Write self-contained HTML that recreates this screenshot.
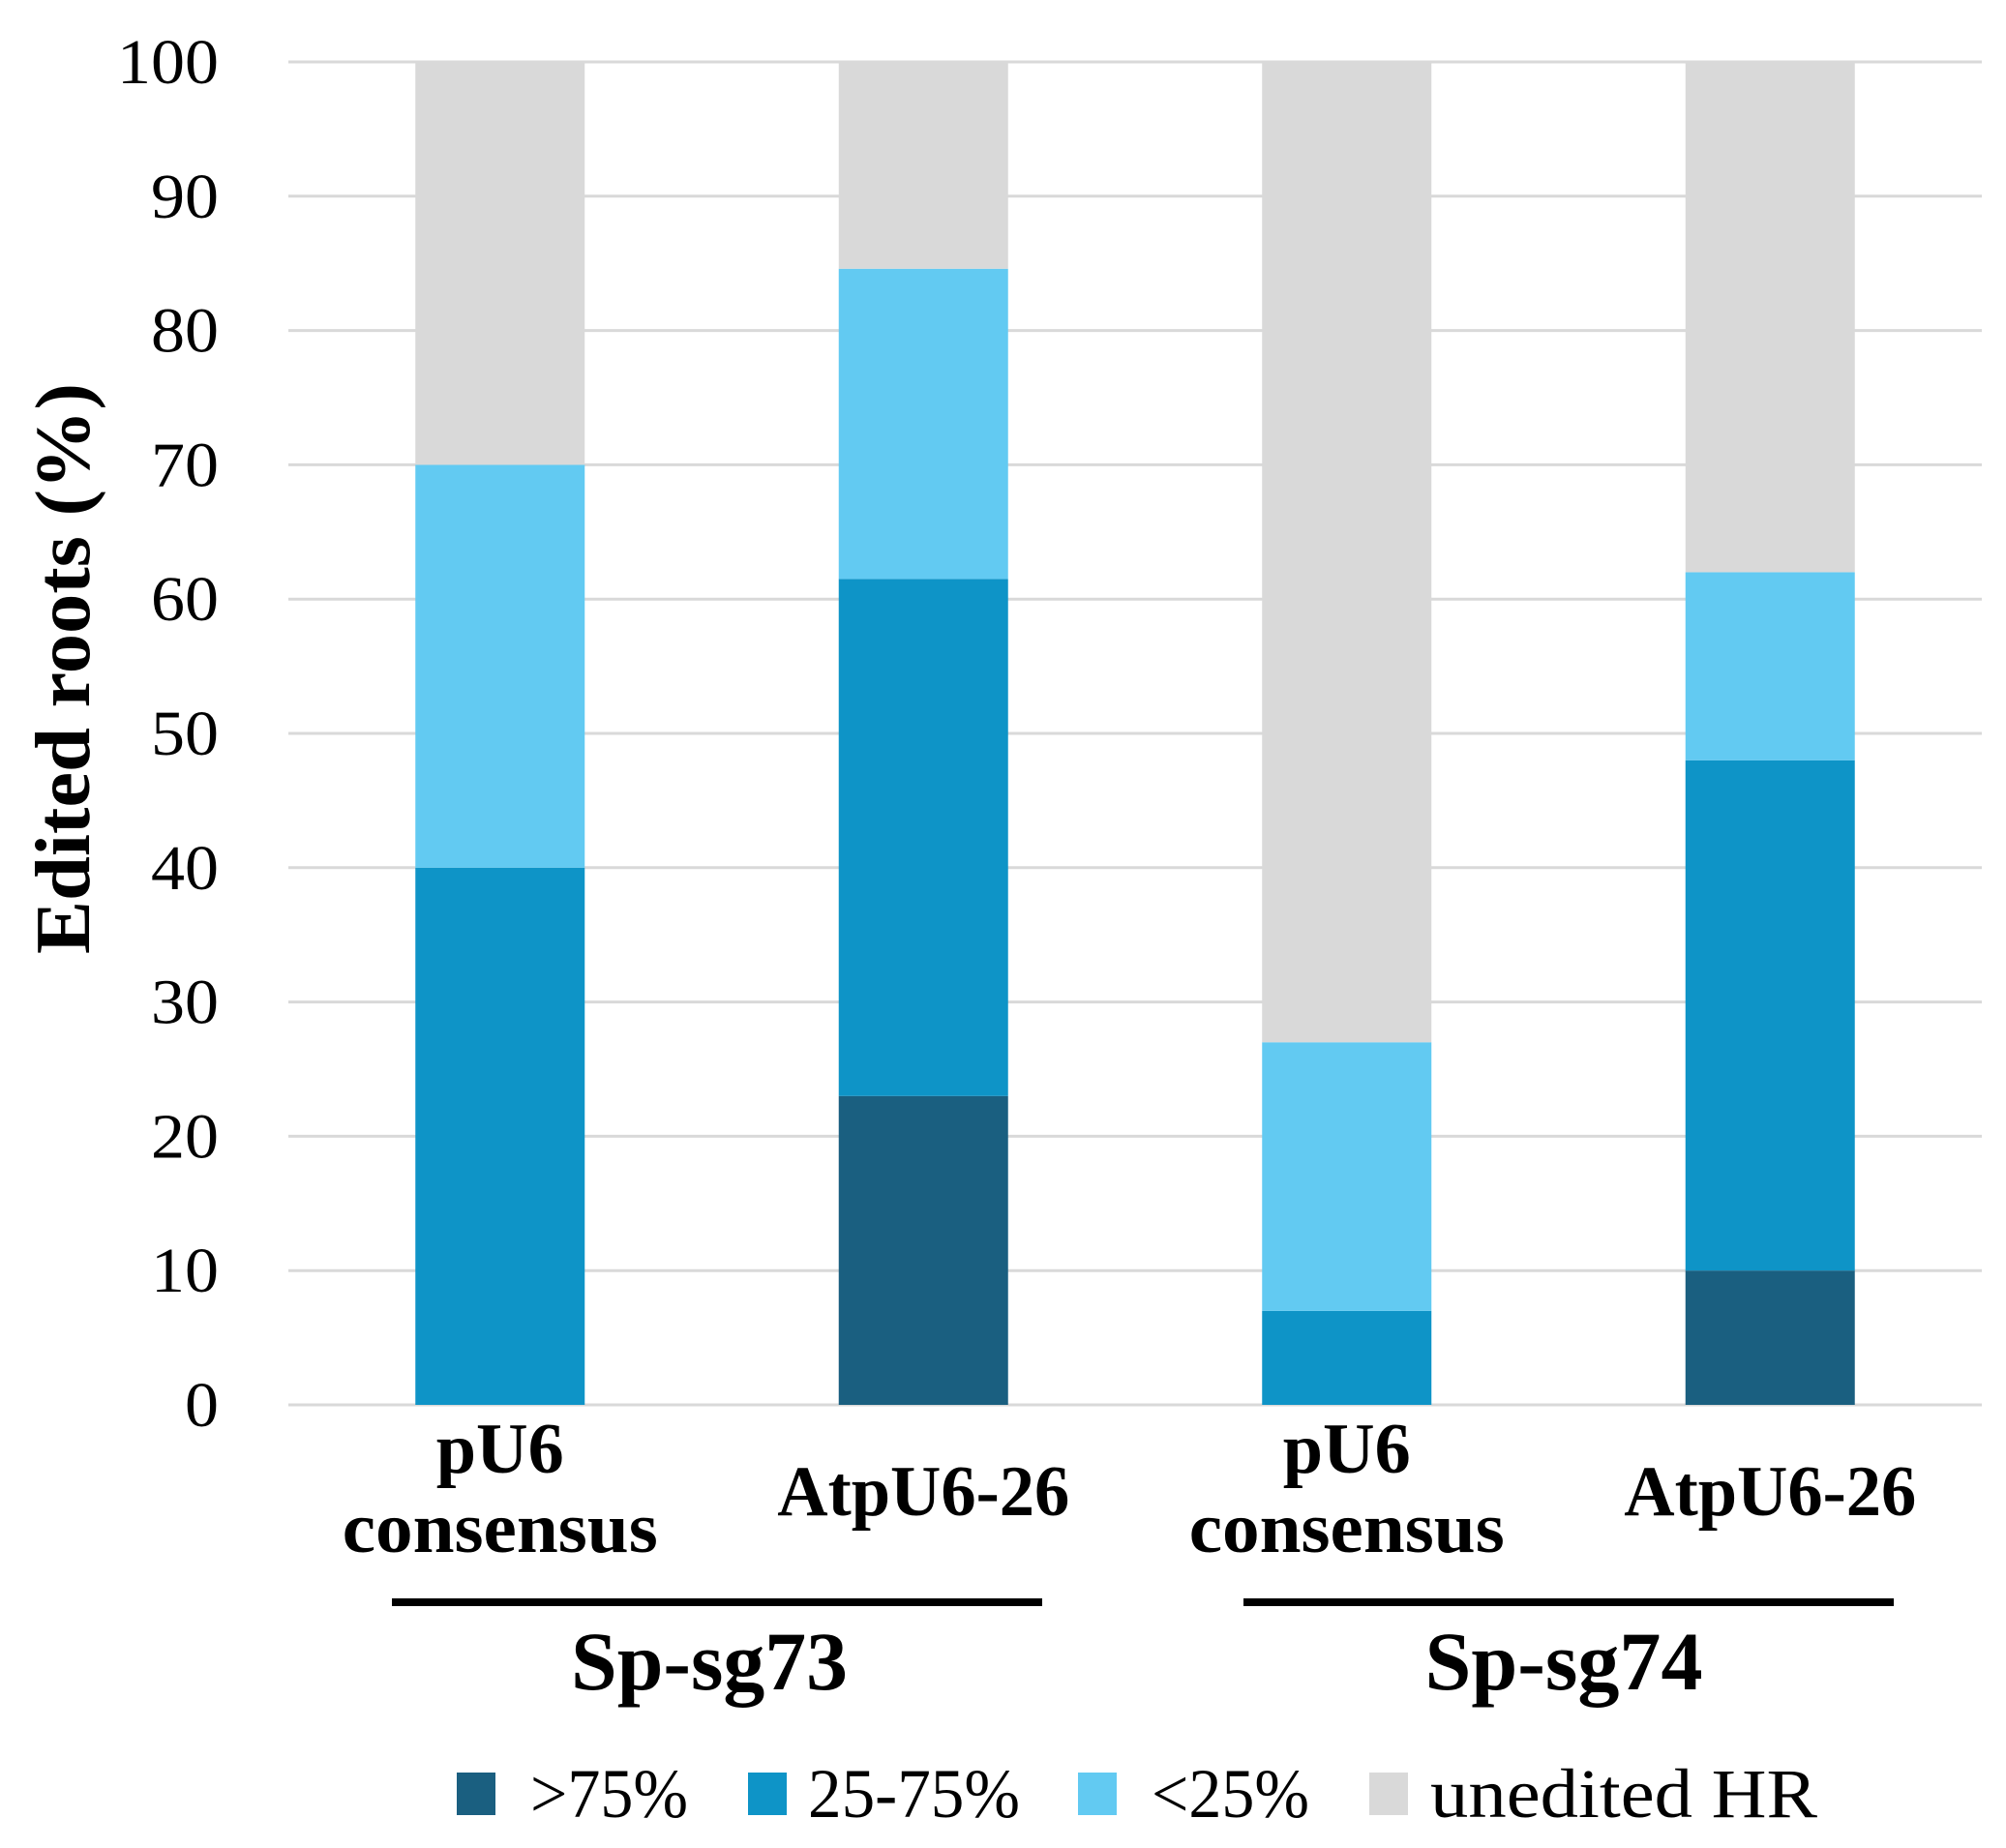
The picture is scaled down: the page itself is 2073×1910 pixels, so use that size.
<!DOCTYPE html>
<html><head><meta charset="utf-8"><style>
html,body{margin:0;padding:0;background:#fff;}
svg{display:block;}
text{font-family:"Liberation Serif",serif;fill:#000;}
</style></head><body>
<svg id="chart" width="2073" height="1910" viewBox="0 0 2073 1910" xmlns="http://www.w3.org/2000/svg">
<g id="grid"></g>
<g id="yticks"></g>
<g id="bars"></g>
<text transform="translate(92,691) rotate(-90)" text-anchor="middle" font-size="80" font-weight="bold" textLength="590" lengthAdjust="spacingAndGlyphs">Edited roots (%)</text>
<g id="xlabels" font-weight="bold" font-size="74" text-anchor="middle"></g>
<rect x="405" y="1652" width="672" height="8" fill="#000"/>
<rect x="1285" y="1652" width="672" height="8" fill="#000"/>
<text x="733" y="1746" font-size="86" font-weight="bold" text-anchor="middle" textLength="286" lengthAdjust="spacingAndGlyphs">Sp-sg73</text>
<text x="1616" y="1746" font-size="86" font-weight="bold" text-anchor="middle" textLength="287" lengthAdjust="spacingAndGlyphs">Sp-sg74</text>
<g id="legend" font-size="72"></g>
</svg>
<script>
const categories = [["pU6","consensus"],["AtpU6-26"],["pU6","consensus"],["AtpU6-26"]];
const seriesNames = [">75%","25-75%","<25%","unedited HR"];
const s75 = [0, 23, 0, 10];
const s2575 = [40, 38.5, 7, 38];
const s25 = [30, 23.1, 20, 14];
const sUnedited = [30, 15.4, 73, 38];
const yTicks = [0,10,20,30,40,50,60,70,80,90,100];

const colors = ["#1a5f80","#0e94c7","#62caf2","#d9d9d9"];
const NS = "http://www.w3.org/2000/svg";
const x0 = 298, x1 = 2048, yBottom = 1452, yTop = 64;
const band = (x1 - x0) / categories.length;
const barW = 175;
function y(v){ return yBottom - (v/100)*(yBottom - yTop); }
function xc(i){ return x0 + band*(i+0.5); }
function mk(tag, attrs, parent){ const e=document.createElementNS(NS,tag); for(const k in attrs) e.setAttribute(k,attrs[k]); parent.appendChild(e); return e; }
const labelW = {"pU6":132,"consensus":326,"AtpU6-26":302};

const grid = document.getElementById('grid');
const yt = document.getElementById('yticks');
yTicks.forEach(t=>{
  const l = mk('line',{x1:x0,x2:2048,y1:y(t),y2:y(t),stroke:'#d9d9d9','stroke-width':3},grid);
  
  
  const tx = mk('text',{x:226,y:y(t)+22,'text-anchor':'end','font-size':66,textLength:(String(t).length*35),lengthAdjust:'spacingAndGlyphs'},yt);
  tx.textContent = t;
  
  
});

const series = [s75, s2575, s25, sUnedited];
const bars = document.getElementById('bars');
categories.forEach((c,i)=>{
  let acc = 0;
  series.forEach((s,k)=>{
    const v = s[i];
    if(v>0){
      const r = mk('rect',{x:xc(i)-barW/2,y:y(acc+v),width:barW,height:y(acc)-y(acc+v),fill:colors[k]},bars);
      
      
    }
    acc += v;
  });
});

const xl = document.getElementById('xlabels');
categories.forEach((c,i)=>{
  if(c.length===2){
    const a = mk('text',{x:xc(i),y:1522,textLength:labelW[c[0]],lengthAdjust:'spacingAndGlyphs'},xl); a.textContent=c[0];
    
    
    const b = mk('text',{x:xc(i),y:1604,textLength:labelW[c[1]],lengthAdjust:'spacingAndGlyphs'},xl); b.textContent=c[1];
    
    
  } else {
    const a = mk('text',{x:xc(i),y:1566,textLength:labelW[c[0]],lengthAdjust:'spacingAndGlyphs'},xl); a.textContent=c[0];
    
    
  }
});

const lg = document.getElementById('legend');
const sqX = [472, 773, 1114, 1415];
const txX = [548, 835, 1190, 1478];
const txW = [163, 219, 163, 400];
seriesNames.forEach((n,k)=>{
  const r = mk('rect',{x:sqX[k],y:1832,width:40,height:44,fill:colors[k]},lg);
  
  
  const t = mk('text',{x:txX[k],y:1878,textLength:txW[k],lengthAdjust:'spacingAndGlyphs'},lg); t.textContent=n;
  
  
});
</script>
</body></html>
